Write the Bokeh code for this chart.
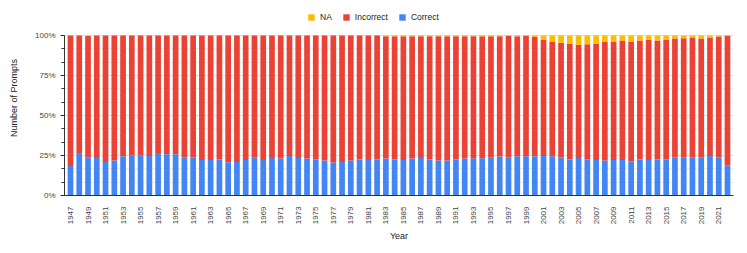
import math
from bokeh.plotting import figure
from bokeh.models import (ColumnDataSource, Legend, LegendItem, FixedTicker,
                          PrintfTickFormatter, Range1d)
from bokeh.embed import file_html
from bokeh.resources import INLINE

years = list(range(1947, 2023))
correct = [18.5, 26.6, 23.9, 23.5, 21.0, 21.8, 24.5, 25.2, 25.2, 24.7,
           26.6, 25.8, 25.8, 23.9, 23.7, 22.2, 22.2, 22.5, 20.8, 21.0,
           22.2, 23.6, 22.2, 23.5, 23.1, 24.7, 23.5, 23.1, 22.5, 21.8,
           20.6, 21.0, 21.8, 22.5, 22.2, 22.5, 23.1, 22.5, 22.2, 23.1,
           23.5, 22.5, 21.8, 21.8, 22.5, 23.1, 23.3, 23.3, 23.6, 24.4,
           23.9, 24.5, 24.5, 24.5, 24.7, 24.5, 23.9, 22.5, 23.5, 22.5,
           22.2, 21.8, 22.2, 22.2, 21.2, 22.5, 22.2, 22.5, 22.5, 23.7,
           23.9, 23.9, 23.9, 24.7, 23.7, 18.7]
incorrect = [81.5, 73.4, 75.8, 76.5, 79.0, 78.2, 75.5, 74.8, 74.8, 75.3,
             73.4, 74.2, 74.2, 76.1, 76.3, 77.8, 77.8, 77.5, 79.2, 79.0,
             77.8, 76.4, 77.8, 76.5, 76.9, 75.3, 76.5, 76.9, 77.5, 78.2,
             79.4, 79.0, 78.2, 77.5, 77.8, 77.5, 76.5, 77.1, 77.4, 76.5,
             76.1, 77.1, 77.8, 77.8, 77.1, 76.5, 76.3, 76.3, 76.0, 75.2,
             75.9, 75.1, 75.3, 74.5, 72.8, 71.8, 71.6, 72.5, 70.7, 72.1,
             72.8, 74.1, 74.1, 74.7, 75.1, 74.4, 75.0, 74.4, 74.7, 74.4,
             74.4, 74.9, 74.3, 74.1, 75.6, 81.1]
na = [0.0, 0.0, 0.3, 0.0, 0.0, 0.0, 0.0, 0.0, 0.0, 0.0,
      0.0, 0.0, 0.0, 0.0, 0.0, 0.0, 0.0, 0.0, 0.0, 0.0,
      0.0, 0.0, 0.0, 0.0, 0.0, 0.0, 0.0, 0.0, 0.0, 0.0,
      0.0, 0.0, 0.0, 0.0, 0.0, 0.0, 0.4, 0.4, 0.4, 0.4,
      0.4, 0.4, 0.4, 0.4, 0.4, 0.4, 0.4, 0.4, 0.4, 0.4,
      0.2, 0.4, 0.2, 1.0, 2.5, 3.7, 4.5, 5.0, 5.8, 5.4,
      5.0, 4.1, 3.7, 3.1, 3.7, 3.1, 2.8, 3.1, 2.8, 1.9,
      1.7, 1.2, 1.8, 1.2, 0.7, 0.2]
x_tick_years = list(range(1947, 2023, 2))
y_ticks = [0, 25, 50, 75, 100]
y_minor = [25 / 3 * i for i in range(13)]

BLUE, RED, YELLOW = "#4285F4", "#EA4335", "#FBBC04"
FONT = "Liberation Sans"

src = ColumnDataSource(dict(year=years, Correct=correct, Incorrect=incorrect, NA=na))

# frame reaches the top of the canvas so the legend can sit inside it;
# the y axis itself is bounded to 0..100
p = figure(width=747, height=253, output_backend="svg", toolbar_location=None,
           x_range=Range1d(1946.315, 2022.685), y_range=Range1d(0, 121.875),
           min_border_left=64, min_border_right=14, min_border_top=0,
           min_border_bottom=58)
p.outline_line_color = None
p.background_fill_color = "white"

rs = p.vbar_stack(["Correct", "Incorrect", "NA"], x="year", width=0.65,
                  color=[BLUE, RED, YELLOW], source=src, line_color=None)

# axes
p.xaxis.ticker = FixedTicker(ticks=x_tick_years)
p.xaxis.major_label_orientation = math.pi / 2
p.xaxis.major_tick_line_color = None
p.xaxis.minor_tick_line_color = None
p.xaxis.major_label_standoff = 5
p.xaxis.axis_label = "Year"
p.xaxis.axis_label_standoff = 4

p.yaxis.bounds = (0, 100)
p.yaxis.ticker = FixedTicker(ticks=y_ticks, minor_ticks=y_minor)
p.yaxis.formatter = PrintfTickFormatter(format="%d%%")
p.yaxis.major_tick_out = 4
p.yaxis.major_tick_in = 0
p.yaxis.minor_tick_out = 3
p.yaxis.minor_tick_in = 0
p.yaxis.major_label_standoff = 5
p.yaxis.axis_label = "Number of Prompts"
p.yaxis.axis_label_standoff = 13

for ax in (p.xaxis[0], p.yaxis[0]):
    ax.axis_line_color = "#333333"
    ax.major_label_text_font = FONT
    ax.major_label_text_font_size = "8px"
    ax.major_label_text_color = "#444444"
    ax.axis_label_text_font = FONT
    ax.axis_label_text_font_size = "9px"
    ax.axis_label_text_font_style = "normal"
    ax.axis_label_text_color = "#222222"
p.yaxis.major_tick_line_color = "#333333"
p.yaxis.minor_tick_line_color = "#333333"

p.xgrid.grid_line_color = None
p.ygrid.grid_line_color = "#e0e0e0"
p.ygrid.minor_grid_line_color = "#ececec"

legend = Legend(items=[LegendItem(label="NA", renderers=[rs[2]]),
                       LegendItem(label="Incorrect", renderers=[rs[1]]),
                       LegendItem(label="Correct", renderers=[rs[0]])],
                orientation="horizontal", location=(243, 173),
                padding=0, margin=0, spacing=10,
                glyph_width=8, glyph_height=8, label_standoff=5,
                label_height=10, label_width=5,
                label_text_font=FONT, label_text_font_size="8.5px",
                label_text_color="#222222",
                border_line_color=None, background_fill_alpha=0)
p.add_layout(legend, "center")

open("out.html", "w").write(file_html(p, INLINE))
